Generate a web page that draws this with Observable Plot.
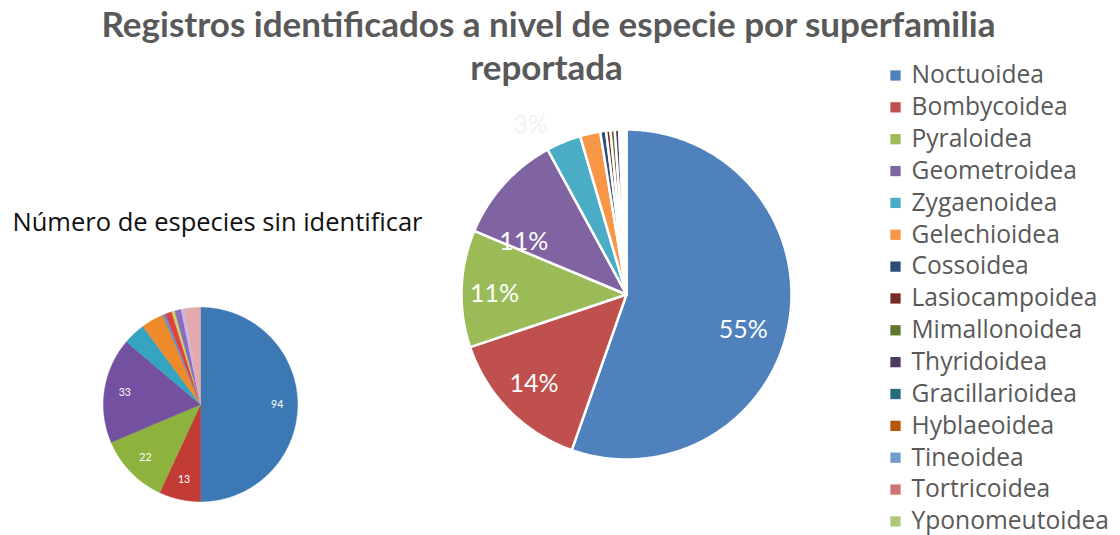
<!DOCTYPE html>
<html><head><meta charset="utf-8">
<script src="https://cdn.jsdelivr.net/npm/d3@7"></script>
<script src="https://cdn.jsdelivr.net/npm/@observablehq/plot@0.6"></script>
<style>body{margin:0;background:#fff;}</style>
</head><body><div id="chart"></div>
<script>
// ---- data ----
const superfamilias = ["Noctuoidea","Bombycoidea","Pyraloidea","Geometroidea","Zygaenoidea","Gelechioidea","Cossoidea","Lasiocampoidea","Mimallonoidea","Thyridoidea","Gracillarioidea","Hyblaeoidea","Tineoidea","Tortricoidea","Yponomeutoidea"];
const registros = [391,102,81,76,24,14,4,3,3,3,1,1,1,1,1];
const colores = ["#4F81BD","#C0504D","#9BBB59","#8064A2","#4BACC6","#F79646","#2C4D75","#772C2A","#5F7530","#4D3B62","#276A7C","#B65708","#729ACA","#CD7371","#AFC97A"];
const sinIdentificar = [94,13,22,33,7,7,1,2,1,2,1,5];
const coloresSinIdentificar = ["#3C78B4","#C23B35","#8DB33E","#7350A0","#34A4C1","#EE8A2A","#7090C0","#E04040","#C8D66A","#8A6CC0","#C8B8E0","#E3AAAE"];
const tituloLineas = ["Registros identificados a nivel de especie por superfamilia","reportada"];
const subtitulo = "Número de especies sin identificar";

// ---- helpers ----
const W = 1120, H = 535;
function pieRows(values, colors, cx, cy, r, prefix) {
  const arcs = d3.pie().sort(null).value(d => d)(values);
  const rows = [];
  arcs.forEach((p, i) => {
    const id = prefix + i;
    const n = Math.max(2, Math.ceil((p.endAngle - p.startAngle) / (Math.PI / 360)));
    rows.push({id, x: cx, y: cy, color: colors[i]});
    for (let k = 0; k <= n; k++) {
      const a = p.startAngle + (p.endAngle - p.startAngle) * k / n;
      rows.push({id, x: cx + r * Math.sin(a), y: cy - r * Math.cos(a), color: colors[i]});
    }
    rows.push({id, x: cx, y: cy, color: colors[i]});
  });
  return {rows, arcs};
}

// big pie
const bc = {x: 626, y: 294, r: 165};
const big = pieRows(registros, colores, bc.x, bc.y, bc.r, "b");
const total = d3.sum(registros);
const bigLabelR = [0.74, 0.78, 0.80, 0.70, 1.18];
const bigLabelDA = [7.3, 0.6, -2, -15, -7];
const bigLabels = bigLabelR.map((lr, i) => {
  const p = big.arcs[i];
  const a = (p.startAngle + p.endAngle) / 2 + bigLabelDA[i] * Math.PI / 180;
  return {x: bc.x + lr * bc.r * Math.sin(a), y: bc.y - lr * bc.r * Math.cos(a),
          text: Math.round(registros[i] / total * 100) + "%", fill: i === 4 ? "#F2F2F2" : "#FFFFFF"};
});

// small pie
const sc = {x: 200, y: 404, r: 97};
const small = pieRows(sinIdentificar, coloresSinIdentificar, sc.x, sc.y, sc.r, "s");
const smallLabels = small.arcs.slice(0, 4).map((p, i) => {
  const a = (p.startAngle + p.endAngle) / 2;
  return {x: sc.x + 0.79 * sc.r * Math.sin(a), y: sc.y - 0.79 * sc.r * Math.cos(a), text: String(sinIdentificar[i])};
});

// legend
const legend = superfamilias.map((name, i) => ({name, color: colores[i], y: 75 + i * 31.85}));

const font = "Lato, 'Open Sans', sans-serif";
const wide = "'Open Sans', Lato, sans-serif";
const chart = Plot.plot({
  width: W, height: H, margin: 0,
  x: {domain: [0, W], range: [0, W], axis: null},
  y: {domain: [0, H], range: [0, H], axis: null},
  color: {type: "identity"},
  style: {background: "#fff", fontFamily: font},
  marks: [
    Plot.line(small.rows, {x: "x", y: "y", z: "id", fill: "color", stroke: "color", strokeWidth: 0.5, curve: "linear"}),
    Plot.text(smallLabels, {x: "x", y: "y", text: "text", fill: "#fff", fontSize: 10.5}),
    Plot.line(big.rows, {x: "x", y: "y", z: "id", fill: "color", stroke: "#fff", strokeWidth: 2.5, strokeLinejoin: "round", curve: "linear"}),
    Plot.text(bigLabels, {x: "x", y: "y", text: "text", fill: "fill", fontSize: 25}),
    Plot.text([tituloLineas[0]], {x: () => 548, y: () => 25, text: d => d, fontSize: 35, fontWeight: "bold", fill: "#595959"}),
    Plot.text([tituloLineas[1]], {x: () => 546, y: () => 68, text: d => d, fontSize: 35, fontWeight: "bold", fill: "#595959"}),
    Plot.text([subtitulo], {x: () => 12, y: () => 222, text: d => d, textAnchor: "start", fontSize: 25.5, fontFamily: wide, fill: "#111"}),
    Plot.dot(legend, {x: () => 895, y: "y", symbol: "square", r: 5.8, fill: "color", stroke: null}),
    Plot.text(legend, {x: () => 911, y: "y", text: "name", textAnchor: "start", fontSize: 24.6, fontFamily: wide, fill: "#595959"})
  ]
});
document.getElementById("chart").append(chart);
</script>
</body></html>
